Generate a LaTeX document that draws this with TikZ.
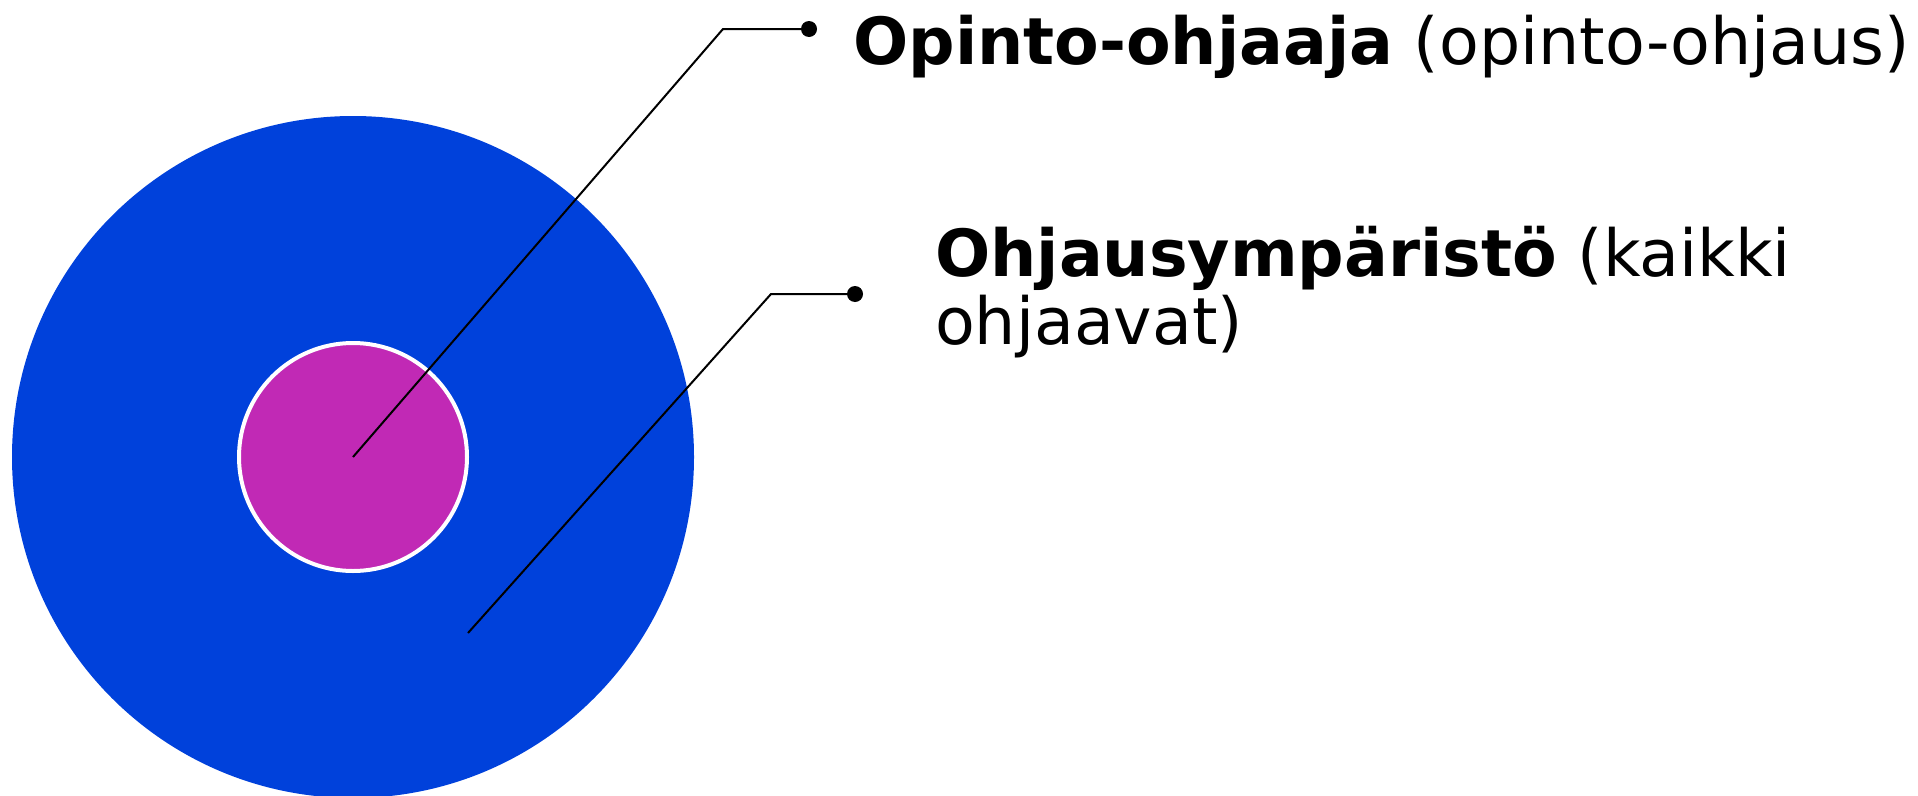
\documentclass[tikz,border=0pt]{standalone}
\usepackage{fontspec}
\setmainfont{DejaVu Sans}
\definecolor{envblue}{RGB}{0,65,219}
\definecolor{coremag}{RGB}{193,41,181}
\tikzset{
  leader/.style={draw=black, line width=2pt, line join=miter},
  dotnode/.style={circle, fill=black, inner sep=0pt, minimum size=16pt},
  labeltext/.style={inner sep=0pt, anchor=base west, font=\fontsize{65}{68}\selectfont},
}
\begin{document}
\begin{tikzpicture}[x=1pt,y=-1pt]
\useasboundingbox (0,0) rectangle (1918,795);
\clip (0,0) rectangle (1918,795);
\fill[white] (0,0) rectangle (1918,795);
% circles
\node[circle, fill=envblue, minimum size=682pt, inner sep=0pt] (env) at (353,457) {};
\node[circle, fill=coremag, draw=white, line width=4pt, minimum size=228pt, inner sep=0pt] (core) at (353,457) {};
% dots and corners
\node[dotnode] (d1) at (809,29) {};
\node[dotnode] (d2) at (855,294) {};
\coordinate (k1) at (723,29);
\coordinate (k2) at (771,294);
\coordinate (s2) at (468,633);
% leaders
\draw[leader] (core.center) -- (k1) -- (d1.center);
\draw[leader] (s2) -- (k2) -- (d2.center);
% labels
\node[labeltext] (t1) at (853,64) {\textbf{Opinto-ohjaaja} (opinto-ohjaus)};
\node[labeltext] (t2) at (935,276) {\textbf{Ohjausympäristö} (kaikki};
\node[labeltext] (t3) at (935,344) {ohjaavat)};
\end{tikzpicture}
\end{document}
